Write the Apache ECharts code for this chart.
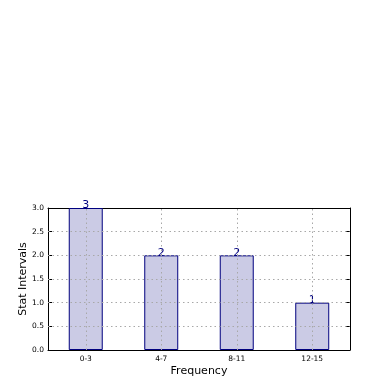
<!DOCTYPE html>
<html><head><meta charset="utf-8">
<script src="https://cdn.jsdelivr.net/npm/echarts@6/dist/echarts.min.js"></script>
<style>html,body{margin:0;padding:0;background:#fff}#c{width:390px;height:390px}</style>
</head><body><div id="c"></div>
<script>
var categories = ['0-3', '4-7', '8-11', '12-15'];
var values = [3, 2, 2, 1];
var yTicks = [0, 0.5, 1, 1.5, 2, 2.5, 3];

var chart = echarts.init(document.getElementById('c'), null, {renderer: 'canvas'});
var gridLine = {color: '#a8a8a8', type: [1.5, 3], width: 1};
var font = 'DejaVu Sans';
chart.setOption({
  animation: false,
  grid: {left: 48, right: 40, top: 208, bottom: 40},
  xAxis: [{
    type: 'category', data: categories, position: 'bottom',
    name: 'Frequency', nameLocation: 'middle', nameGap: 16, nameMoveOverlap: false,
    nameTextStyle: {fontFamily: font, fontSize: 11, color: '#000'},
    axisLine: {onZero: false, lineStyle: {color: '#000', width: 1}},
    axisTick: {inside: true, alignWithLabel: true, length: 4, lineStyle: {color: '#000'}},
    axisLabel: {fontFamily: font, fontSize: 7.5, color: '#000', margin: 5},
    splitLine: {show: false}
  }, {
    type: 'category', data: categories, position: 'top',
    axisLine: {onZero: false, lineStyle: {color: '#000', width: 1}},
    axisTick: {inside: true, alignWithLabel: true, length: 4, lineStyle: {color: '#000'}},
    axisLabel: {show: false}, splitLine: {show: false}
  }],
  yAxis: [{
    type: 'value', min: 0, max: 3, interval: 0.5,
    name: 'Stat Intervals', nameLocation: 'middle', nameGap: 19, nameMoveOverlap: false,
    nameTextStyle: {fontFamily: font, fontSize: 11, color: '#000'},
    axisLine: {show: true, onZero: false, lineStyle: {color: '#000', width: 1}},
    axisTick: {show: true, inside: true, length: 4, lineStyle: {color: '#000'}},
    axisLabel: {fontFamily: font, fontSize: 7.5, color: '#000', margin: 4,
      formatter: function (v) { return v.toFixed(1); }},
    splitLine: {show: false}
  }, {
    type: 'value', min: 0, max: 3, interval: 0.5, position: 'right',
    axisLine: {show: true, onZero: false, lineStyle: {color: '#000', width: 1}},
    axisTick: {show: true, inside: true, length: 4, lineStyle: {color: '#000'}},
    axisLabel: {show: false}, splitLine: {show: false}
  }],
  series: [{
    type: 'bar', data: values, barWidth: '45%',
    itemStyle: {color: '#cbcbe5', borderColor: '#00007f', borderWidth: 1},
    label: {show: true, position: 'top', distance: -3, fontFamily: font, fontSize: 11, color: '#00007f'},
    markLine: {
      silent: true, symbol: 'none', label: {show: false},
      lineStyle: gridLine,
      data: categories.map(function (c) { return {xAxis: c}; })
        .concat(yTicks.slice(1, -1).map(function (t) { return {yAxis: t}; }))
    }
  }]
});
</script></body></html>
